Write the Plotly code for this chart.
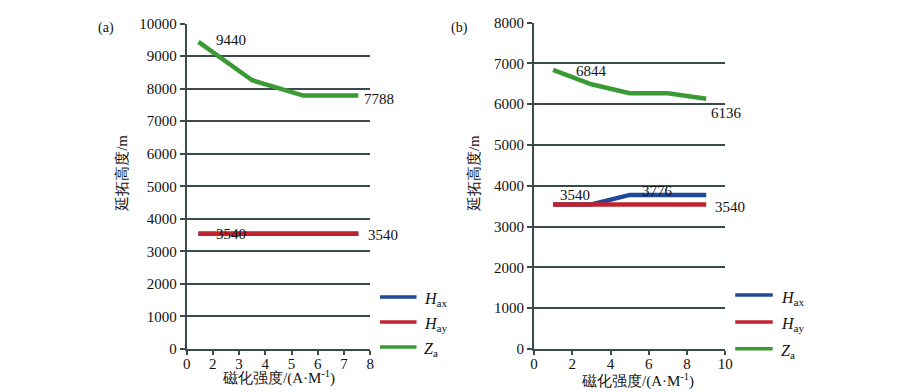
import plotly.graph_objects as go

W, H = 900, 392

# ---- data ----
# panel (a): x positions on category-like axis (labels 0,2,3,...,8)
xa = [0.45, 2.5, 4.45, 6.55]
a_hax = [3540, 3540, 3540, 3540]
a_hay = [3540, 3540, 3540, 3540]
a_za = [9440, 8260, 7788, 7788]
a_tickvals = [0, 1, 2, 3, 4, 5, 6, 7]
a_ticktext = ["0", "2", "3", "4", "5", "6", "7", "8"]

# panel (b)
xb = [1, 3, 5, 7, 9]
b_hax = [3540, 3540, 3776, 3776, 3776]
b_hay = [3540, 3540, 3540, 3540, 3540]
b_za = [6844, 6490, 6270, 6270, 6136]
b_tickvals = [0, 2, 4, 6, 8, 10]

series_names = ["<i>H</i><sub>ax</sub>", "<i>H</i><sub>ay</sub>", "<i>Z</i><sub>a</sub>"]
colors = ["#1f4a9a", "#c0232e", "#3a9a34"]

SERIF = "Liberation Serif"
AX = "#3b4a4a"

def px(x):
    return x / W

def py(y):
    return (H - y) / H

fig = go.Figure()

for ys, c in zip([a_hax, a_hay, a_za], colors):
    fig.add_trace(go.Scatter(x=xa, y=ys, mode="lines", line=dict(color=c, width=4.5),
                             xaxis="x", yaxis="y", showlegend=False, hoverinfo="skip"))
for ys, c in zip([b_hax, b_hay, b_za], colors):
    fig.add_trace(go.Scatter(x=xb, y=ys, mode="lines", line=dict(color=c, width=4.5),
                             xaxis="x2", yaxis="y2", showlegend=False, hoverinfo="skip"))

def tf():
    return dict(family=SERIF, size=15, color="#111")

common_y = dict(showgrid=True, gridcolor=AX, gridwidth=1.6, showline=True, linecolor=AX,
                linewidth=2, ticks="outside", ticklen=5, tickcolor=AX, tickwidth=1.5,
                zeroline=False, dtick=1000, tickformat="d")
common_x = dict(showgrid=False, showline=True, linecolor=AX, linewidth=2, ticks="",
                zeroline=False)

def minor(vals):
    return dict(tickvals=vals, ticks="outside", ticklen=4, tickcolor=AX, tickwidth=1.5,
                showgrid=False)

fig.update_layout(
    width=W, height=H,
    margin=dict(l=0, r=0, t=0, b=0),
    paper_bgcolor="white", plot_bgcolor="white",
    font=dict(family=SERIF, size=15, color="#111"),
    xaxis=dict(domain=[px(177), px(363)], range=[0, 7], tickvals=a_tickvals,
               ticktext=a_ticktext, anchor="y", tickfont=tf(), minor=minor(a_tickvals),
               **common_x),
    yaxis=dict(domain=[py(347), py(8)], range=[0, 10000], anchor="x", tickfont=tf(), **common_y),
    xaxis2=dict(domain=[px(529), px(723)], range=[0, 10], tickvals=b_tickvals, anchor="y2",
                tickfont=tf(), minor=minor(b_tickvals), **common_x),
    yaxis2=dict(domain=[py(347), py(7)], range=[0, 8000], anchor="x2", tickfont=tf(), **common_y),
)

ann = []
def lab(text, x, y, xr, yr, xshift=0, yshift=0):
    ann.append(dict(text=text, x=x, y=y, xref=xr, yref=yr, xanchor="left", yanchor="middle",
                    showarrow=False, xshift=xshift, yshift=yshift,
                    font=dict(family=SERIF, size=15, color="#111")))

# panel a labels
lab(str(a_za[0]), xa[0], a_za[0], "x", "y", xshift=16, yshift=2)
lab(str(a_za[-1]), xa[-1], a_za[-1], "x", "y", xshift=4, yshift=-3)
lab(str(a_hay[0]), xa[0], a_hay[0], "x", "y", xshift=16, yshift=0)
lab(str(a_hay[-1]), xa[-1], a_hay[-1], "x", "y", xshift=8, yshift=-1)
# panel b labels
lab(str(b_za[0]), xb[0], b_za[0], "x2", "y2", xshift=21, yshift=-1)
lab(str(b_za[-1]), xb[-1], b_za[-1], "x2", "y2", xshift=3, yshift=-14)
lab(str(b_hay[0]), xb[0], b_hay[0], "x2", "y2", xshift=5, yshift=10)
lab(str(b_hax[2]), xb[2], b_hax[2], "x2", "y2", xshift=10, yshift=4)
lab(str(b_hay[-1]), xb[-1], b_hay[-1], "x2", "y2", xshift=7, yshift=-2)

def txt(text, x, y, size=15, angle=0, xanchor="center"):
    ann.append(dict(text=text, x=px(x), y=py(y), xref="paper", yref="paper",
                    xanchor=xanchor, yanchor="middle", showarrow=False, textangle=angle,
                    font=dict(family=SERIF, size=size, color="#111")))

txt("(a)", 95, 12, size=14)
txt("(b)", 454, 12, size=14)
txt("延拓高度/m", 112, 164, size=15, angle=-90)
txt("延拓高度/m", 469, 164, size=15, angle=-90)
txt("磁化强度/(A·M<sup>-1</sup>)", 270, 377, size=15)
txt("磁化强度/(A·M<sup>-1</sup>)", 634, 380, size=15)

shapes = []
# legends
for (x0, x1, ys) in [(373, 410, [293, 319, 345]), (733, 771, [291, 319, 347])]:
    for name, c, y in zip(series_names, colors, ys):
        shapes.append(dict(type="line", xref="paper", yref="paper", x0=px(x0), x1=px(x1),
                           y0=py(y), y1=py(y), line=dict(color=c, width=3.5)))
        ann.append(dict(text=name, x=px(x1 + 6), y=py(y + 3), xref="paper", yref="paper",
                        xanchor="left", yanchor="middle", showarrow=False,
                        font=dict(family=SERIF, size=16, color="#111")))

fig.update_layout(annotations=ann, shapes=shapes)
fig.write_html("out.html")
